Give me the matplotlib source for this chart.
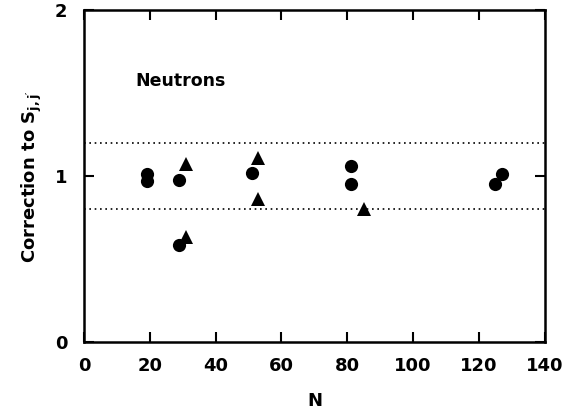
import numpy as np
import matplotlib
matplotlib.use("Agg")
import matplotlib.pyplot as plt

# circles
circ_n = [19, 19, 29, 29, 51, 81, 81, 125, 127]
circ_c = [1.01, 0.97, 0.975, 0.585, 1.02, 1.06, 0.95, 0.95, 1.01]
# triangles
tri_n = [31, 31, 53, 53, 85]
tri_c = [1.07, 0.63, 1.11, 0.86, 0.80]
# dotted band
band = [0.8, 1.2]

plt.rcParams["font.family"] = "DejaVu Sans"
plt.rcParams["font.weight"] = "bold"
plt.rcParams["mathtext.default"] = "regular"

fig = plt.figure(figsize=(5.79, 4.15), dpi=100)
ax = fig.add_axes([0.145, 0.176, 0.796, 0.8])

ax.plot(circ_n, circ_c, "o", color="black", ms=9.5, mew=0)
ax.plot(tri_n, tri_c, "^", color="black", ms=10, mew=0)
for b in band:
    ax.axhline(b, color="black", ls=(0, (1, 2.2)), lw=1.2)

ax.text(15.5, 1.57, "Neutrons", fontsize=12.5, fontweight="bold", va="center")

ax.set_xlim(0, 140)
ax.set_ylim(0, 2)
ax.set_xticks(np.arange(0, 141, 20))
ax.set_yticks([0, 1, 2])
ax.tick_params(direction="in", top=True, right=True, length=7, width=1.5,
               labelsize=13)
ax.tick_params(axis="y", pad=12)
ax.tick_params(axis="x", pad=11)
for lab in ax.get_xticklabels() + ax.get_yticklabels():
    lab.set_fontweight("bold")
for sp in ax.spines.values():
    sp.set_linewidth(1.8)

ax.set_xlabel("N", fontsize=13, fontweight="bold", labelpad=12)
ax.set_ylabel(r"Correction to S$_{j,j'}$", fontsize=13, fontweight="bold",
              labelpad=8)

fig.savefig("out.png", dpi=100)
